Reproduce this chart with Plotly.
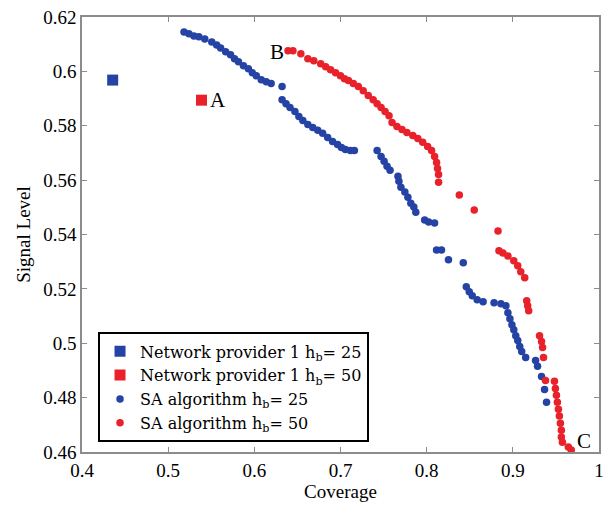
import plotly.graph_objects as go

# Network provider points
np25_x = [0.4356]
np25_y = [0.5968]
np50_x = [0.5387]
np50_y = [0.5894]

# SA algorithm h_b = 25 (blue)
sa25_x = [0.5184, 0.5241, 0.5299, 0.5356, 0.5425, 0.5506, 0.5563, 0.5609, 0.5667, 0.5724,
          0.5770, 0.5816, 0.5874, 0.5931, 0.5977, 0.6023, 0.6080, 0.6138, 0.6195, 0.6322,
          0.6322, 0.6368, 0.6414, 0.6471, 0.6517, 0.6563, 0.6621, 0.6678, 0.6736, 0.6793,
          0.6851, 0.6908, 0.6966, 0.7011, 0.7057, 0.7115, 0.7161, 0.7425, 0.7471, 0.7506,
          0.7540, 0.7575, 0.7667, 0.7678, 0.7701, 0.7747, 0.7782, 0.7816, 0.7851, 0.7874,
          0.7977, 0.8023, 0.8092, 0.8115, 0.8172, 0.8253, 0.8425, 0.8460, 0.8494, 0.8529,
          0.8586, 0.8655, 0.8782, 0.8862, 0.8920, 0.8943, 0.8966, 0.8989, 0.9011, 0.9034,
          0.9057, 0.9080, 0.9103, 0.9149, 0.9264, 0.9287, 0.9333, 0.9368, 0.9391]
sa25_y = [0.6145, 0.6138, 0.6130, 0.6127, 0.6119, 0.6108, 0.6097, 0.6086, 0.6072, 0.6061,
          0.6046, 0.6035, 0.6021, 0.6010, 0.5995, 0.5984, 0.5969, 0.5962, 0.5955, 0.5944,
          0.5896, 0.5881, 0.5867, 0.5852, 0.5834, 0.5819, 0.5805, 0.5794, 0.5783, 0.5772,
          0.5757, 0.5742, 0.5731, 0.5720, 0.5713, 0.5709, 0.5709, 0.5709, 0.5687, 0.5669,
          0.5651, 0.5636, 0.5614, 0.5596, 0.5574, 0.5556, 0.5537, 0.5515, 0.5501, 0.5482,
          0.5453, 0.5446, 0.5442, 0.5343, 0.5343, 0.5307, 0.5296, 0.5208, 0.5189, 0.5175,
          0.5160, 0.5153, 0.5149, 0.5145, 0.5138, 0.5112, 0.5090, 0.5068, 0.5050, 0.5028,
          0.5010, 0.4988, 0.4970, 0.4948, 0.4937, 0.4915, 0.4878, 0.4830, 0.4783]

# SA algorithm h_b = 50 (red)
sa50_x = [0.6391, 0.6448, 0.6540, 0.6621, 0.6690, 0.6770, 0.6828, 0.6885, 0.6943, 0.7000,
          0.7046, 0.7092, 0.7149, 0.7207, 0.7264, 0.7322, 0.7379, 0.7425, 0.7471, 0.7517,
          0.7563, 0.7598, 0.7655, 0.7713, 0.7770, 0.7839, 0.7897, 0.7954, 0.8011, 0.8057,
          0.8092, 0.8115, 0.8126, 0.8138, 0.8138, 0.8379, 0.8552, 0.8828, 0.8839, 0.8885,
          0.8943, 0.9011, 0.9057, 0.9092, 0.9138, 0.9161, 0.9172, 0.9184, 0.9310, 0.9333,
          0.9345, 0.9356, 0.9379, 0.9483, 0.9494, 0.9506, 0.9517, 0.9529, 0.9540, 0.9552,
          0.9563, 0.9563, 0.9575, 0.9644, 0.9678]
sa50_y = [0.6076, 0.6076, 0.6065, 0.6046, 0.6039, 0.6028, 0.6017, 0.6006, 0.5995, 0.5984,
          0.5973, 0.5966, 0.5955, 0.5944, 0.5929, 0.5911, 0.5896, 0.5881, 0.5867, 0.5852,
          0.5837, 0.5812, 0.5797, 0.5786, 0.5775, 0.5764, 0.5753, 0.5739, 0.5724, 0.5709,
          0.5687, 0.5665, 0.5643, 0.5621, 0.5592, 0.5545, 0.5490, 0.5413, 0.5340, 0.5332,
          0.5321, 0.5303, 0.5285, 0.5263, 0.5241, 0.5156, 0.5138, 0.5120, 0.5028, 0.5006,
          0.4984, 0.4948, 0.4863, 0.4860, 0.4834, 0.4809, 0.4783, 0.4757, 0.4732, 0.4706,
          0.4680, 0.4655, 0.4636, 0.4618, 0.4607]

x_ticks = [0.4, 0.5, 0.6, 0.7, 0.8, 0.9, 1.0]
x_ticktext = ["0.4", "0.5", "0.6", "0.7", "0.8", "0.9", "1"]
y_ticks = [0.46, 0.48, 0.50, 0.52, 0.54, 0.56, 0.58, 0.60, 0.62]
y_ticktext = ["0.46", "0.48", "0.5", "0.52", "0.54", "0.56", "0.58", "0.6", "0.62"]

labels = [("A", 0.5575, 0.5896), ("B", 0.6264, 0.6072), ("C", 0.9828, 0.4640)]

BLUE = "#2443a4"
RED = "#e8212a"
FONT = "Liberation Serif"
LEGEND_FONT = "DejaVu Serif"

fig = go.Figure()
fig.add_trace(go.Scatter(x=np25_x, y=np25_y, mode="markers",
                         marker=dict(symbol="square", size=11, color=BLUE),
                         name="Network provider 1 h<sub>b</sub>= 25"))
fig.add_trace(go.Scatter(x=np50_x, y=np50_y, mode="markers",
                         marker=dict(symbol="square", size=11, color=RED),
                         name="Network provider 1 h<sub>b</sub>= 50"))
fig.add_trace(go.Scatter(x=sa25_x, y=sa25_y, mode="markers",
                         marker=dict(symbol="circle", size=7.5, color=BLUE),
                         name="SA algorithm h<sub>b</sub>= 25"))
fig.add_trace(go.Scatter(x=sa50_x, y=sa50_y, mode="markers",
                         marker=dict(symbol="circle", size=7.5, color=RED),
                         name="SA algorithm h<sub>b</sub>= 50"))

for t, x, y in labels:
    fig.add_annotation(x=x, y=y, text=t, showarrow=False,
                       font=dict(family=FONT, size=21, color="black"))

axis_common = dict(showgrid=False, zeroline=False, showline=True, linecolor="#8c8c8c",
                   linewidth=1.5, mirror="ticks", ticks="inside", ticklen=5,
                   tickcolor="#8c8c8c", tickfont=dict(family=FONT, size=19, color="black"))

fig.update_xaxes(range=[0.4, 1.0], tickvals=x_ticks, ticktext=x_ticktext,
                 title=dict(text="Coverage", font=dict(family=FONT, size=19, color="black"),
                            standoff=4),
                 **axis_common)
fig.update_yaxes(range=[0.46, 0.62], tickvals=y_ticks, ticktext=y_ticktext,
                 title=dict(text="Signal Level", font=dict(family=FONT, size=19, color="black"),
                            standoff=8),
                 **axis_common)

fig.update_layout(
    width=611, height=506,
    margin=dict(l=82, r=7, t=15, b=54),
    paper_bgcolor="white", plot_bgcolor="white",
    showlegend=True,
    legend=dict(x=0.031, y=0.275, xanchor="left", yanchor="top",
                bgcolor="white", bordercolor="black", borderwidth=2,
                font=dict(family=LEGEND_FONT, size=16, color="black"),
                tracegroupgap=0, itemsizing="trace"),
)

fig.write_html("out.html")
